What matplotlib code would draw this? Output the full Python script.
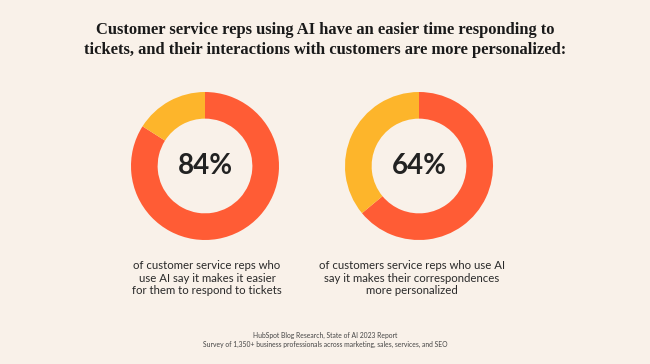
import matplotlib.pyplot as plt

# --- Data ---
shares = [84, 64]                      # % of reps who agree
center_labels = ["84%", "64%"]
captions = [
    "of customer service reps who\nuse AI say it makes it easier\nfor them to respond to tickets",
    "of customers service reps who use AI\nsay it makes their correspondences\nmore personalized",
]
title = ("Customer service reps using AI have an easier time responding to\n"
         "tickets, and their interactions with customers are more personalized:")
source = ("HubSpot Blog Research, State of AI 2023 Report\n"
          "Survey of 1,350+ business professionals across marketing, sales, services, and SEO")

# --- Style ---
BG = "#F9F1E9"
ORANGE = "#FF5C35"
YELLOW = "#FDB52B"
W, H = 650, 364

fig = plt.figure(figsize=(W / 100, H / 100), dpi=100, facecolor=BG)

fig.text(0.5, 1 - 40 / H, title, ha="center", va="center", fontsize=11.9,
         family="Liberation Serif", weight="bold", color="#1a1a1a", linespacing=1.25)

# donut centres and radius in pixels
centers = [(205, 166), (419, 166)]
radius = 74
caption_x = [207, 412]

for val, lab, cap, (cx, cy), tx in zip(shares, center_labels, captions, centers, caption_x):
    size = 2 * radius
    ax = fig.add_axes([(cx - radius) / W, 1 - (cy + radius) / H, size / W, size / H])
    ax.pie([val, 100 - val], colors=[ORANGE, YELLOW], startangle=90, counterclock=False,
           radius=1, wedgeprops=dict(width=0.36, linewidth=0))
    ax.set_xlim(-1, 1)
    ax.set_ylim(-1, 1)
    ax.set_aspect("equal")
    ax.axis("off")
    ax.text(0, 0, lab, ha="center", va="center", fontsize=20, family="Lato",
            weight="bold", color="#222222")
    fig.text(tx / W, 1 - 278 / H, cap, ha="center", va="center", fontsize=8.2,
             family="Lato", color="#2a2a2a", linespacing=1.22)

fig.text(0.5, 1 - 340 / H, source, ha="center", va="center", fontsize=4.9,
         family="Lato", color="#444444", linespacing=1.3)

fig.savefig("out.png", dpi=100, facecolor=BG)
